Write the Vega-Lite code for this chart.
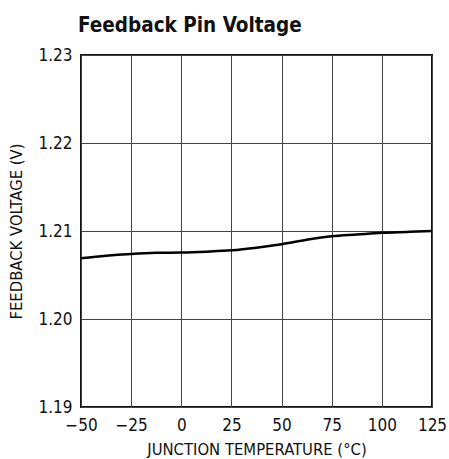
{
  "$schema": "https://vega.github.io/schema/vega-lite/v6.json",
  "width": 351,
  "height": 352,
  "autosize": {"type": "none"},
  "padding": {"left": 81, "top": 55, "right": 17, "bottom": 52},
  "background": "white",
  "title": {
    "text": "Feedback Pin Voltage",
    "anchor": "start",
    "frame": "group",
    "font": "'DejaVu Sans Condensed', Roboto, sans-serif",
    "fontSize": 20.5,
    "fontWeight": "bold",
    "color": "#111",
    "offset": 10,
    "dx": -3
  },
  "data": {
    "values": [
      {"t": -50, "v": 1.2069},
      {"t": -37.5, "v": 1.2072},
      {"t": -25, "v": 1.2074},
      {"t": -12.5, "v": 1.20752},
      {"t": 0, "v": 1.20755},
      {"t": 12.5, "v": 1.20765},
      {"t": 25, "v": 1.2078},
      {"t": 37.5, "v": 1.2081},
      {"t": 50, "v": 1.2085},
      {"t": 62.5, "v": 1.2090},
      {"t": 75, "v": 1.2094},
      {"t": 87.5, "v": 1.2096},
      {"t": 100, "v": 1.2098},
      {"t": 112.5, "v": 1.2099},
      {"t": 125, "v": 1.2100}
    ]
  },
  "mark": {"type": "line", "color": "#000", "strokeWidth": 2.5, "interpolate": "monotone"},
  "encoding": {
    "x": {
      "field": "t",
      "type": "quantitative",
      "scale": {"domain": [-50, 125], "nice": false, "zero": false},
      "axis": {
        "title": "JUNCTION TEMPERATURE (°C)",
        "values": [-50, -25, 0, 25, 50, 75, 100, 125],
        "format": "d",
        "domain": false,
        "ticks": false,
        "grid": true,
        "gridColor": "#444",
        "gridWidth": 1,
        "gridOpacity": 1,
        "labelFont": "'DejaVu Sans Condensed', Roboto, sans-serif",
        "labelFontSize": 17,
        "labelColor": "#111",
        "labelPadding": 10,
        "labelFlush": false,
        "titleFont": "'DejaVu Sans Condensed', Roboto, sans-serif",
        "titleFontSize": 16.5,
        "titleFontWeight": "normal",
        "titleColor": "#111",
        "titlePadding": 8
      }
    },
    "y": {
      "field": "v",
      "type": "quantitative",
      "scale": {"domain": [1.19, 1.23], "nice": false, "zero": false},
      "axis": {
        "title": "FEEDBACK VOLTAGE (V)",
        "values": [1.19, 1.2, 1.21, 1.22, 1.23],
        "format": ".2f",
        "domain": false,
        "ticks": false,
        "grid": true,
        "gridColor": "#444",
        "gridWidth": 1,
        "gridOpacity": 1,
        "labelFont": "'DejaVu Sans Condensed', Roboto, sans-serif",
        "labelFontSize": 17,
        "labelColor": "#111",
        "labelPadding": 9,
        "labelFlush": false,
        "titleFont": "'DejaVu Sans Condensed', Roboto, sans-serif",
        "titleFontSize": 16.5,
        "titleFontWeight": "normal",
        "titleColor": "#111",
        "titlePadding": 13
      }
    }
  },
  "config": {
    "view": {"stroke": "#111", "strokeWidth": 2}
  }
}
